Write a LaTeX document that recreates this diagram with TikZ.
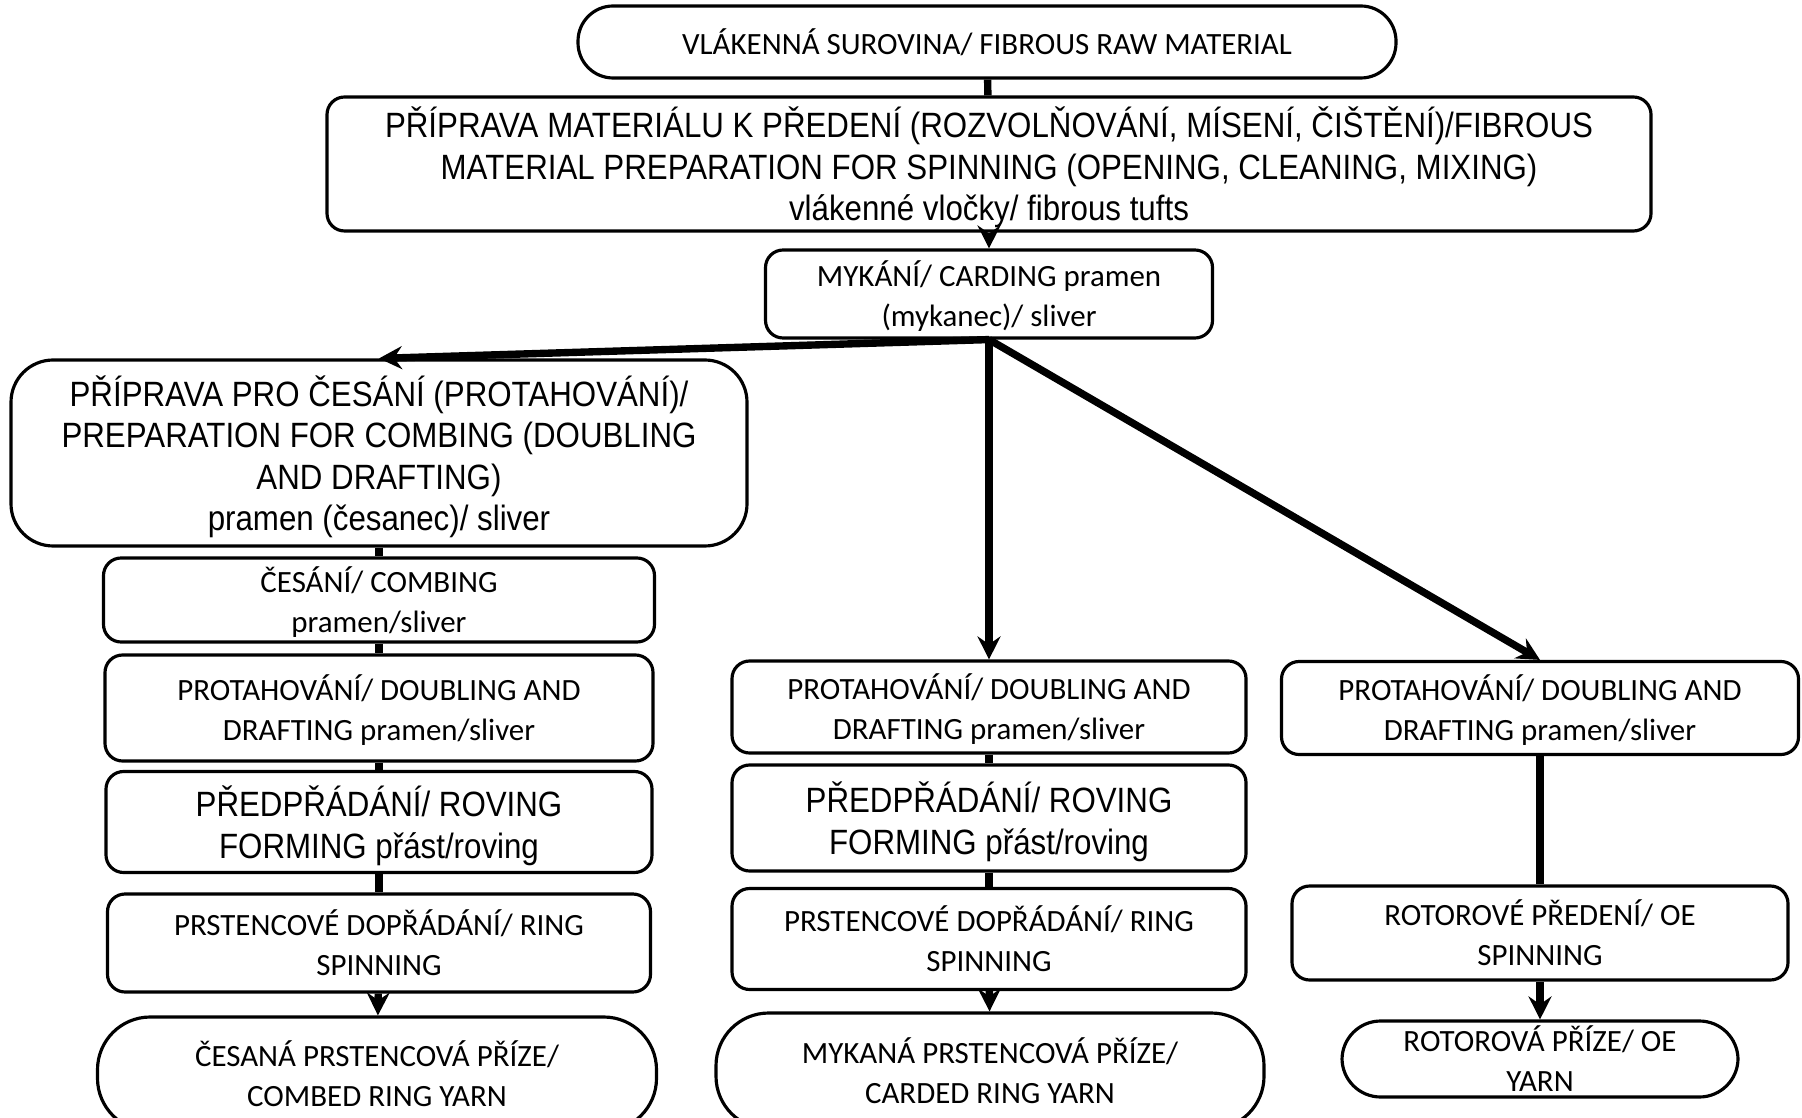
\documentclass[tikz,border=0pt]{standalone}
\usepackage{fontspec}
\setmainfont{Carlito}
\newfontfamily\arialn[FakeStretch=0.89]{Liberation Sans}
\usepackage{tikz}
\usetikzlibrary{arrows.meta}

\tikzset{
  stage/.style={draw, line width=0.9pt, rounded corners=5pt, align=center, inner sep=0pt, text depth=0pt, font=\fontsize{8.8}{11.4}\selectfont},
  astage/.style={stage, font=\arialn\fontsize{10}{11.8}\selectfont},
  yarn/.style={stage, rounded corners=15pt},
  link/.style={line width=2.1pt},
  flow/.style={link, -{Stealth[length=2.3mm,width=2.3mm,inset=0.8mm]}},
}

\begin{document}
\begin{tikzpicture}
        % flow of spinning
        \useasboundingbox (0,0) rectangle (18.02,-11.18);

        \node[yarn, minimum width=8.18cm, minimum height=0.72cm, rounded corners=10pt] (raw) at (9.87, -0.42) {VLÁKENNÁ SUROVINA/ FIBROUS RAW MATERIAL};
        \node[astage, minimum width=13.24cm, minimum height=1.34cm, text depth=-1.3pt] (prep) at (9.89, -1.64) {PŘÍPRAVA MATERIÁLU K PŘEDENÍ (ROZVOLŇOVÁNÍ, MÍSENÍ, ČIŠTĚNÍ)/FIBROUS\\ MATERIAL PREPARATION FOR SPINNING (OPENING, CLEANING, MIXING)\\ vlákenné vločky/ fibrous tufts};
        \node[stage, minimum width=4.47cm, minimum height=0.88cm, text depth=-0.8pt] (card) at (9.89, -2.94) {MYKÁNÍ/ CARDING pramen\\ (mykanec)/ sliver};

        % combed ring yarn
        \node[astage, minimum width=7.36cm, minimum height=1.86cm, rounded corners=12pt, text depth=-1.3pt] (pcomb) at (3.79, -4.53) {PŘÍPRAVA PRO ČESÁNÍ (PROTAHOVÁNÍ)/\\ PREPARATION FOR COMBING (DOUBLING\\ AND DRAFTING)\\ pramen (česanec)/ sliver};
        \node[stage, minimum width=5.51cm, minimum height=0.84cm] (comb) at (3.79, -6.00) {ČESÁNÍ/ COMBING\\ pramen/sliver};
        \node[stage, minimum width=5.48cm, minimum height=1.06cm] (dl) at (3.79, -7.08) {PROTAHOVÁNÍ/ DOUBLING AND\\ DRAFTING pramen/sliver};
        \node[astage, minimum width=5.46cm, minimum height=1.01cm] (rl) at (3.79, -8.22) {PŘEDPŘÁDÁNÍ/ ROVING\\ FORMING přást/roving};
        \node[stage, minimum width=5.43cm, minimum height=0.98cm] (sl) at (3.79, -9.43) {PRSTENCOVÉ DOPŘÁDÁNÍ/ RING\\ SPINNING};
        \node[yarn, minimum width=5.59cm, minimum height=1.14cm] (yl) at (3.77, -10.74) {ČESANÁ PRSTENCOVÁ PŘÍZE/\\ COMBED RING YARN};

        % carded ring yarn
        \node[stage, minimum width=5.14cm, minimum height=0.92cm] (dm) at (9.89, -7.07) {PROTAHOVÁNÍ/ DOUBLING AND\\ DRAFTING pramen/sliver};
        \node[astage, minimum width=5.14cm, minimum height=1.06cm] (rm) at (9.89, -8.18) {PŘEDPŘÁDÁNÍ/ ROVING\\ FORMING přást/roving};
        \node[stage, minimum width=5.14cm, minimum height=1.01cm] (sm) at (9.89, -9.39) {PRSTENCOVÉ DOPŘÁDÁNÍ/ RING\\ SPINNING};
        \node[yarn, minimum width=5.48cm, minimum height=1.16cm] (ym) at (9.90, -10.71) {MYKANÁ PRSTENCOVÁ PŘÍZE/\\ CARDED RING YARN};

        % OE yarn
        \node[stage, minimum width=5.17cm, minimum height=0.93cm] (dr) at (15.40, -7.08) {PROTAHOVÁNÍ/ DOUBLING AND\\ DRAFTING pramen/sliver};
        \node[stage, minimum width=4.96cm, minimum height=0.94cm] (sr) at (15.40, -9.33) {ROTOROVÉ PŘEDENÍ/ OE\\ SPINNING};
        \node[yarn, minimum width=3.96cm, minimum height=0.76cm, rounded corners=11pt] (yr) at (15.40, -10.59) {ROTOROVÁ PŘÍZE/ OE\\ YARN};

        \draw[link] (raw) -- (prep);
        \draw[flow] (prep) -- (card);
        \draw[flow] (card.south) -- (pcomb.north);
        \draw[flow] (card.south) -- (dm.north);
        \draw[flow] (card.south) -- (dr.north);

        \draw[link] (pcomb) -- (comb);
        \draw[link] (comb) -- (dl);
        \draw[link] (dl) -- (rl);
        \draw[link] (rl) -- (sl);
        \draw[flow] (sl) -- (yl);

        \draw[link] (dm) -- (rm);
        \draw[link] (rm) -- (sm);
        \draw[flow] (sm) -- (ym);

        \draw[link] (dr) -- (sr);
        \draw[flow] (sr) -- (yr);
    \end{tikzpicture}
\end{document}
